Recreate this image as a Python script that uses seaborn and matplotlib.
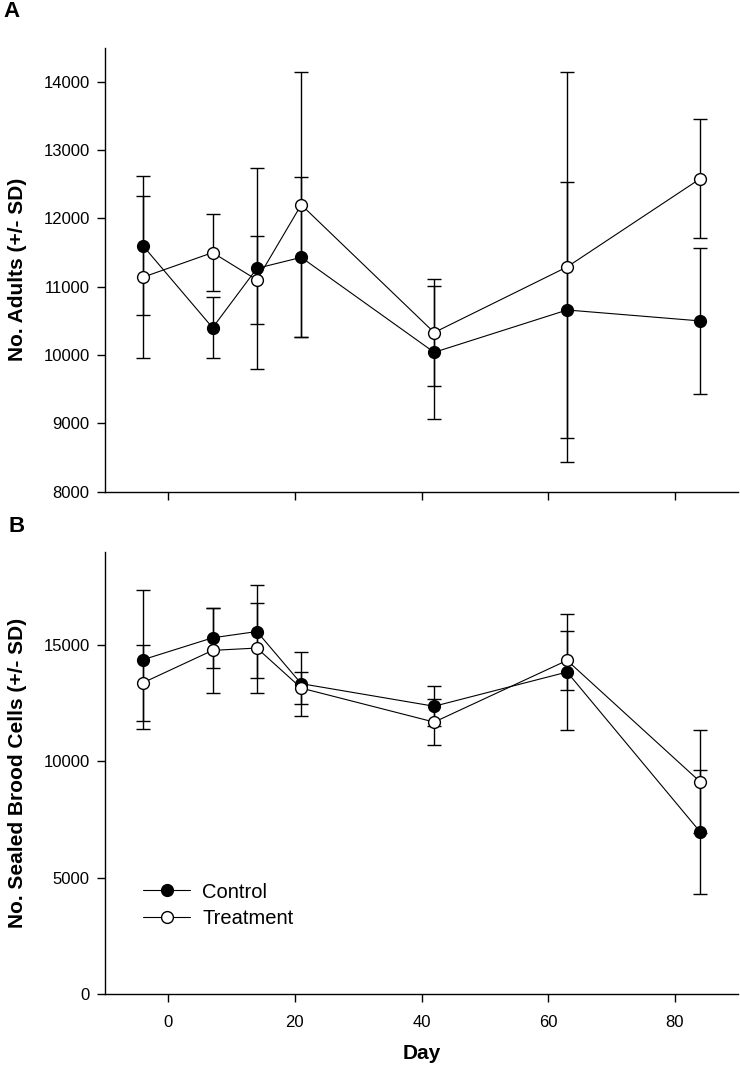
import pandas as pd
import matplotlib
matplotlib.use("Agg")
import matplotlib.pyplot as plt
import seaborn as sns
from matplotlib.lines import Line2D

# sampling days
days = [-4, 7, 14, 21, 42, 63, 84]
groups = ["Control", "Treatment"]

# panel A - adult bees
adults_control = [11600, 10400, 11270, 11430, 10040, 10660, 10500]
adults_control_sd = [1020, 450, 1470, 1170, 970, 1880, 1070]
adults_treatment = [11140, 11500, 11100, 12200, 10330, 11290, 12580]
adults_treatment_sd = [1190, 560, 640, 1940, 790, 2860, 870]

# panel B - sealed brood
brood_control = [14360, 15300, 15570, 13330, 12360, 13830, 6970]
brood_control_sd = [2980, 1290, 2010, 1370, 855, 2510, 2665]
brood_treatment = [13370, 14760, 14860, 13140, 11680, 14330, 9120]
brood_treatment_sd = [1630, 1810, 1940, 700, 985, 1270, 2225]


def long_table(ctrl, ctrl_sd, trt, trt_sd):
    rows = []
    for g, means, sds in [("Control", ctrl, ctrl_sd), ("Treatment", trt, trt_sd)]:
        for d, m, s in zip(days, means, sds):
            rows.append({"day": d, "group": g, "mean": m, "sd": s})
    return pd.DataFrame(rows)


adults_df = long_table(adults_control, adults_control_sd, adults_treatment, adults_treatment_sd)
brood_df = long_table(brood_control, brood_control_sd, brood_treatment, brood_treatment_sd)

sns.set_style("ticks")
plt.rcParams["font.family"] = ["Liberation Sans", "DejaVu Sans"]
plt.rcParams["axes.linewidth"] = 1.0
for key in ["text.color", "axes.labelcolor", "axes.edgecolor", "xtick.color", "ytick.color"]:
    plt.rcParams[key] = "black"

faces = {"Control": "black", "Treatment": "white"}

fig = plt.figure(figsize=(7.4, 10.71), dpi=100)
ax_a = fig.add_axes([0.1419, 0.5409, 0.8554, 0.4146])
ax_b = fig.add_axes([0.1419, 0.0719, 0.8554, 0.4130])


def draw_panel(ax, df):
    # error bars sit under the markers
    for g in groups:
        sub = df[df["group"] == g]
        ax.errorbar(sub["day"], sub["mean"], yerr=sub["sd"], fmt="none",
                    ecolor="black", elinewidth=1.0, capsize=5, capthick=1.0, zorder=2)
    for g in groups:
        sub = df[df["group"] == g]
        sns.lineplot(data=sub, x="day", y="mean", ax=ax, color="black", linewidth=0.8,
                     marker="o", markersize=8.5, markerfacecolor=faces[g],
                     markeredgecolor="black", markeredgewidth=1.0,
                     errorbar=None, legend=False, zorder=3)
    sns.despine(ax=ax)
    ax.set_xlim(-10, 90)
    ax.set_xticks([0, 20, 40, 60, 80])
    ax.tick_params(axis="both", direction="out", length=6, width=1.0, labelsize=12)
    ax.tick_params(axis="y", pad=5)
    ax.tick_params(axis="x", pad=9)


draw_panel(ax_a, adults_df)
ax_a.set_ylim(8000, 14500)
ax_a.set_yticks(range(8000, 14001, 1000))
ax_a.set_xticklabels([])
ax_a.set_xlabel("")
ax_a.set_ylabel("No. Adults (+/- SD)", fontsize=15, fontweight="bold", labelpad=12)

draw_panel(ax_b, brood_df)
ax_b.set_ylim(0, 19000)
ax_b.set_yticks([0, 5000, 10000, 15000])
ax_b.set_xlabel("Day", fontsize=15, fontweight="bold", labelpad=10)
ax_b.set_ylabel("No. Sealed Brood Cells (+/- SD)", fontsize=15, fontweight="bold", labelpad=12)

handles = [Line2D([], [], color="black", linewidth=0.8, marker="o", markersize=8.5,
                  markerfacecolor=faces[g], markeredgecolor="black", markeredgewidth=1.0)
           for g in groups]
ax_b.legend(handles, groups, loc="upper left", bbox_to_anchor=(0.06, 0.252),
            frameon=False, fontsize=14.5, borderpad=0, borderaxespad=0,
            handlelength=2.35, handletextpad=0.6, labelspacing=0.38)

fig.text(0.004, 0.989, "A", fontsize=16, fontweight="bold", va="center", ha="left")
fig.text(0.012, 0.508, "B", fontsize=16, fontweight="bold", va="center", ha="left")

fig.savefig("out.png", dpi=100)
